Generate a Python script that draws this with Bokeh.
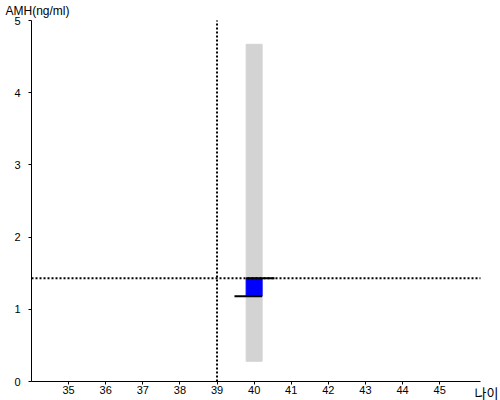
from bokeh.plotting import figure
from bokeh.models import Label, FixedTicker, Range1d
from bokeh.embed import file_html
from bokeh.resources import INLINE

# data
ages = [40]
range_low = [0.28]
range_high = [4.67]
amh_low = [1.18]
amh_high = [1.43]
ref_age = 39
ref_amh = 1.43
x_ticks = [35, 36, 37, 38, 39, 40, 41, 42, 43, 44, 45]
y_ticks = [0, 1, 2, 3, 4, 5]
x_lo, x_hi = 34, 46.1
y_lo, y_hi = 0, 5

p = figure(width=500, height=400, output_backend="svg", toolbar_location=None,
           x_range=Range1d(33.164, 46.64), y_range=Range1d(-0.263, 5.277),
           min_border=0)
p.outline_line_color = None
p.xgrid.visible = False
p.ygrid.visible = False

bw = 0.43
p.vbar(x=ages, width=bw, bottom=range_low, top=range_high, color="#d3d3d3")
p.vbar(x=ages, width=bw, bottom=amh_low, top=amh_high, color="#0000ff")

p.segment(x0=[ref_age], y0=[y_lo], x1=[ref_age], y1=[y_hi],
          line_color="black", line_width=2, line_dash="2 2")
p.segment(x0=[x_lo], y0=[ref_amh], x1=[x_hi], y1=[ref_amh],
          line_color="black", line_width=2, line_dash="2 2")

p.segment(x0=[a - bw / 2 for a in ages], y0=amh_high,
          x1=[a + 0.55 for a in ages], y1=amh_high, line_color="black", line_width=2)
p.segment(x0=[a - 0.53 for a in ages], y0=amh_low,
          x1=[a + bw / 2 for a in ages], y1=amh_low, line_color="black", line_width=2)

for ax in (p.xaxis[0], p.yaxis[0]):
    ax.major_tick_line_color = "black"
    ax.minor_tick_line_color = None
    ax.major_tick_out = 3
    ax.major_tick_in = 0
    ax.minor_tick_out = 0
    ax.minor_tick_in = 0
    ax.axis_line_color = "black"
    ax.major_label_text_font = "Liberation Sans"
    ax.major_label_text_font_size = "11px"
    ax.major_label_text_color = "black"
p.xaxis.ticker = FixedTicker(ticks=x_ticks)
p.yaxis.ticker = FixedTicker(ticks=y_ticks)
p.xaxis.bounds = (x_lo, x_hi)
p.yaxis.bounds = (y_lo, y_hi)
p.xaxis.fixed_location = y_lo
p.yaxis.fixed_location = x_lo
p.xaxis.major_label_standoff = 1
p.yaxis.major_label_standoff = 8

p.add_layout(Label(x=x_lo, y=y_hi, x_offset=-26, y_offset=3, text="AMH(ng/ml)",
                   text_font="Liberation Sans", text_font_size="12px",
                   text_baseline="bottom", text_color="black"))
p.add_layout(Label(x=x_hi, y=y_lo, x_offset=-6, y_offset=-11, text="나이",
                   text_font="Noto Sans CJK KR", text_font_size="13px",
                   text_baseline="middle", text_color="black"))

open("out.html", "w").write(file_html(p, INLINE))
